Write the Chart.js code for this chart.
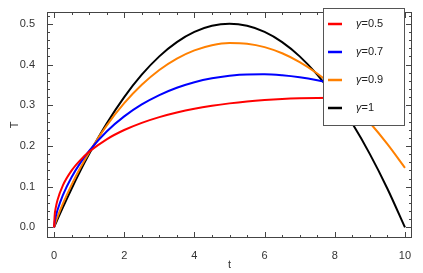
<!DOCTYPE html>
<html>
<head>
<meta charset="utf-8">
<script src="https://cdn.jsdelivr.net/npm/chart.js@4/dist/chart.umd.min.js"></script>
<style>
  html, body { margin: 0; padding: 0; background: #fff; }
  #wrap { width: 423px; height: 273px; }
</style>
</head>
<body>
<div id="wrap"><canvas id="chart"></canvas></div>
<script>
// sample times and curve values
const tVals = [0, 0.02, 0.05, 0.1, 0.25, 0.5, 0.75, 1, 1.5, 2, 2.5, 3, 3.5, 4, 4.5, 5, 5.5, 6, 6.5, 7, 7.5, 8, 8.5, 9, 9.5, 10];
const gamma05 = [0, 0.0311, 0.0485, 0.0674, 0.1028, 0.1396, 0.1654, 0.1857, 0.2164, 0.2392, 0.2568, 0.2709, 0.2822, 0.2914, 0.2987, 0.3046, 0.3093, 0.3128, 0.3154, 0.3171, 0.3181, 0.3183, 0.3180, 0.3170, 0.3156, 0.3137];
const gamma07 = [0, 0.0141, 0.0265, 0.0426, 0.0788, 0.1233, 0.1584, 0.1879, 0.2356, 0.2726, 0.3019, 0.3250, 0.3430, 0.3566, 0.3663, 0.3726, 0.3757, 0.3759, 0.3734, 0.3685, 0.3612, 0.3518, 0.3403, 0.3268, 0.3114, 0.2943];
const gamma09 = [0, 0.0061, 0.0139, 0.0258, 0.0578, 0.1046, 0.1463, 0.1841, 0.2500, 0.3050, 0.3502, 0.3866, 0.4146, 0.4348, 0.4475, 0.4529, 0.4512, 0.4428, 0.4276, 0.4060, 0.3781, 0.3438, 0.3034, 0.2570, 0.2045, 0.1463];
const gamma1 = [0, 0.0040, 0.0100, 0.0198, 0.0488, 0.0950, 0.1388, 0.1800, 0.2550, 0.3200, 0.3750, 0.4200, 0.4550, 0.4800, 0.4950, 0.5000, 0.4950, 0.4800, 0.4550, 0.4200, 0.3750, 0.3200, 0.2550, 0.1800, 0.0950, 0];

const seriesNames = ["γ=0.5", "γ=0.7", "γ=0.9", "γ=1"];
const seriesColors = ["#ff0000", "#0000ff", "#ff8000", "#000000"];

const xTicks = [0, 2, 4, 6, 8, 10];
const yTicks = [0, 0.1, 0.2, 0.3, 0.4, 0.5];

function pts(arr) {
  return tVals.map((t, i) => ({ x: t, y: arr[i] }));
}

const allSeries = [gamma05, gamma07, gamma09, gamma1];

// frame with inward ticks on all four sides (Mathematica style)
const frameTicks = {
  id: "frameTicks",
  afterDatasetsDraw(chart) {
    const ctx = chart.ctx;
    const a = chart.chartArea;
    const xs = chart.scales.x, ys = chart.scales.y;
    ctx.save();
    ctx.strokeStyle = "#444";
    ctx.lineWidth = 1;
    ctx.strokeRect(a.left + 0.5, a.top + 0.5, a.right - a.left - 1, a.bottom - a.top - 1);
    ctx.beginPath();
    for (let v = 0; v <= 10.001; v += 0.5) {
      const major = Math.abs(v / 2 - Math.round(v / 2)) < 1e-6;
      const len = major ? 6 : 3;
      const px = Math.round(xs.getPixelForValue(v)) + 0.5;
      ctx.moveTo(px, a.bottom); ctx.lineTo(px, a.bottom - len);
      ctx.moveTo(px, a.top); ctx.lineTo(px, a.top + len);
    }
    for (let k = 0; k <= 26; k++) {
      const v = k * 0.02;
      const major = k % 5 === 0;
      const len = major ? 6 : 3;
      const py = Math.round(ys.getPixelForValue(v)) + 0.5;
      ctx.moveTo(a.left, py); ctx.lineTo(a.left + len, py);
      ctx.moveTo(a.right, py); ctx.lineTo(a.right - len, py);
    }
    ctx.stroke();
    ctx.restore();
  }
};

// boxed legend drawn over the curves, top right
const boxLegend = {
  id: "boxLegend",
  afterDraw(chart) {
    const ctx = chart.ctx;
    const x0 = 323, y0 = 8, w = 81, h = 117;
    ctx.save();
    ctx.fillStyle = "#fff";
    ctx.fillRect(x0, y0, w, h);
    ctx.strokeStyle = "#555";
    ctx.lineWidth = 1;
    ctx.strokeRect(x0 + 0.5, y0 + 0.5, w, h);
    chart.data.datasets.forEach((ds, i) => {
      const yy = 24 + i * 28;
      ctx.strokeStyle = ds.borderColor;
      ctx.lineWidth = 2.5;
      ctx.beginPath();
      ctx.moveTo(328, yy); ctx.lineTo(342, yy);
      ctx.stroke();
      ctx.fillStyle = "#222";
      ctx.textBaseline = "middle";
      ctx.font = "italic 11px 'Liberation Sans', Arial, sans-serif";
      const g = ds.label.charAt(0);
      ctx.fillText(g, 356, yy);
      const gw = ctx.measureText(g).width;
      ctx.font = "11px 'Liberation Sans', Arial, sans-serif";
      ctx.fillText(ds.label.slice(1), 356 + gw, yy);
    });
    ctx.restore();
  }
};

new Chart(document.getElementById("chart"), {
  type: "line",
  data: {
    datasets: allSeries.map((arr, i) => ({
      label: seriesNames[i],
      data: pts(arr),
      borderColor: seriesColors[i],
      backgroundColor: seriesColors[i],
      borderWidth: 2,
      pointRadius: 0,
      cubicInterpolationMode: "monotone",
      fill: false
    }))
  },
  options: {
    responsive: true,
    maintainAspectRatio: false,
    animation: false,
    layout: { padding: { top: 12, right: 11, left: 0, bottom: 0 } },
    plugins: {
      legend: { display: false },
      tooltip: { enabled: false }
    },
    scales: {
      x: {
        type: "linear",
        min: -0.2,
        max: 10.2,
        afterBuildTicks: s => { s.ticks = xTicks.map(v => ({ value: v })); },
        afterFit: s => { s.height = 35; },
        grid: { display: false },
        border: { display: false },
        ticks: {
          color: "#333",
          padding: 3,
          maxRotation: 0,
          font: { family: "'Liberation Sans', Arial, sans-serif", size: 11 }
        },
        title: {
          display: true,
          text: "t",
          color: "#333",
          padding: { top: 4, bottom: 1 },
          font: { family: "'Liberation Sans', Arial, sans-serif", size: 11 }
        }
      },
      y: {
        type: "linear",
        min: -0.026,
        max: 0.529,
        afterBuildTicks: s => { s.ticks = yTicks.map(v => ({ value: v })); },
        afterFit: s => { s.width = 47; },
        grid: { display: false },
        border: { display: false },
        ticks: {
          color: "#333",
          padding: 4,
          callback: v => v.toFixed(1),
          font: { family: "'Liberation Sans', Arial, sans-serif", size: 11 }
        },
        title: {
          display: true,
          text: "T",
          color: "#333",
          padding: { top: 8, bottom: 0 },
          font: { family: "'Liberation Sans', Arial, sans-serif", size: 11 }
        }
      }
    }
  },
  plugins: [frameTicks, boxLegend]
});
</script>
</body>
</html>
